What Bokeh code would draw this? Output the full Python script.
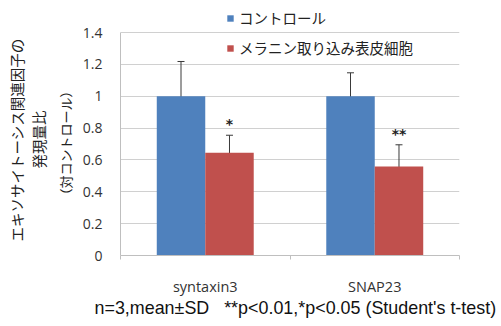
from bokeh.plotting import figure
from bokeh.models import (ColumnDataSource, Range1d, FixedTicker, Whisker, TeeHead,
                          Legend, LegendItem, Title)
from bokeh.core.properties import value
from bokeh.embed import file_html
from bokeh.resources import INLINE

# ---- data ----
categories = ["syntaxin3", "SNAP23"]
series_names = ["コントロール", "メラニン取り込み表皮細胞"]
control_mean = [1.0, 1.0]
control_sd = [0.218, 0.147]
melanin_mean = [0.645, 0.559]
melanin_sd = [0.11, 0.136]
significance = ["*", "**"]
y_ticks = [0, 0.2, 0.4, 0.6, 0.8, 1.0, 1.2, 1.4]
y_tick_labels = ["0", "0.2", "0.4", "0.6", "0.8", "1", "1.2", "1.4"]
y_title_lines = ["エキソサイトーシス関連因子の", "発現量比", "（対コントロール）"]
footnote = "n=3,mean±SD\u00a0\u00a0\u00a0**p<0.01,*p<0.05 (Student's t-test)"

BLUE = "#4f81bd"
RED = "#c0504d"
GRID = "#d0d0d0"
AXIS = "#bfbfbf"
JP = "Noto Sans CJK JP"

bar_w = 0.286
off = bar_w / 2
y_max = y_ticks[-1]
y_end = y_max * 250 / 223   # headroom above the top gridline for the legend

xc = [i + 0.5 for i in range(len(categories))]
ctrl = ColumnDataSource(dict(
    x=[c - off for c in xc], top=control_mean,
    upper=[m + s for m, s in zip(control_mean, control_sd)],
    lower=[m - s for m, s in zip(control_mean, control_sd)]))
mel = ColumnDataSource(dict(
    x=[c + off for c in xc], top=melanin_mean,
    upper=[m + s for m, s in zip(melanin_mean, melanin_sd)],
    lower=[m - s for m, s in zip(melanin_mean, melanin_sd)],
    sig=significance))

p = figure(width=501, height=326, output_backend="svg", toolbar_location=None,
           x_range=Range1d(0, len(categories)), y_range=Range1d(0, y_end),
           min_border_left=120, min_border_right=42, min_border_top=5,
           min_border_bottom=71)
p.outline_line_color = None
p.background_fill_color = "white"
p.xgrid.visible = False
p.ygrid.grid_line_color = GRID
p.ygrid.ticker = FixedTicker(ticks=y_ticks)

r1 = p.vbar(x="x", top="top", width=bar_w, source=ctrl, fill_color=BLUE, line_color=None)
r2 = p.vbar(x="x", top="top", width=bar_w, source=mel, fill_color=RED, line_color=None)

for src in (ctrl, mel):
    w = Whisker(base="x", upper="upper", lower="lower", source=src,
                line_color="#3a3a3a", line_width=1,
                upper_head=TeeHead(size=7, line_color="#3a3a3a", line_width=1),
                lower_head=TeeHead(size=7, line_color="#3a3a3a", line_width=1))
    p.add_layout(w)

p.text(x="x", y="upper", text="sig", source=mel, text_align="center",
       text_baseline="bottom", y_offset=-3, text_font=value("DejaVu Sans"),
       text_font_size="14px", text_font_style="bold", text_color="#222222")

# y axis
p.yaxis.ticker = FixedTicker(ticks=y_ticks)
p.yaxis.bounds = (0, y_max)
p.yaxis.major_label_overrides = {t: l for t, l in zip(y_ticks, y_tick_labels)}
p.yaxis.major_tick_out = 0
p.yaxis.major_tick_in = 0
p.yaxis.minor_tick_out = 0
p.yaxis.minor_tick_in = 0
p.yaxis.axis_line_color = AXIS
p.yaxis.major_label_standoff = 18
p.yaxis.major_label_text_font = "Open Sans"
p.yaxis.major_label_text_font_size = "14px"
p.yaxis.major_label_text_color = "#333333"

# x axis
p.xaxis.ticker = FixedTicker(ticks=xc, minor_ticks=list(range(len(categories) + 1)))
p.xaxis.major_label_overrides = {c: n for c, n in zip(xc, categories)}
p.xaxis.major_tick_out = 0
p.xaxis.major_tick_in = 0
p.xaxis.minor_tick_out = 4
p.xaxis.minor_tick_in = 0
p.xaxis.minor_tick_line_color = AXIS
p.xaxis.axis_line_color = AXIS
p.xaxis.major_label_standoff = 17
p.xaxis.major_label_text_font = "Open Sans"
p.xaxis.major_label_text_font_size = "14.5px"
p.xaxis.major_label_text_color = "#333333"

# y title: three left-side titles, innermost first (offset = distance from frame bottom)
title_styles = [(y_title_lines[2], "13px", 10, 54),
                (y_title_lines[1], "14.5px", 0, 87),
                (y_title_lines[0], "14.5px", -2, 14)]
for line, fs, so, offs in title_styles:
    p.add_layout(Title(text=line, align="left", standoff=so, offset=offs,
                       text_font=JP, text_font_size=fs, text_font_style="normal",
                       text_color="#222222"), "left")

# footnote below the x axis
p.add_layout(Title(text=footnote, align="left", offset=-26, standoff=-6,
                   text_font="Liberation Sans", text_font_size="17.9px",
                   text_font_style="normal", text_color="#111111"), "below")

legend = Legend(items=[LegendItem(label=series_names[0], renderers=[r1]),
                       LegendItem(label=series_names[1], renderers=[r2])],
                location=(106, 197), orientation="vertical",
                glyph_width=8, glyph_height=8, label_standoff=5,
                label_height=20, spacing=9, padding=0, margin=0,
                label_text_font=JP, label_text_font_size="14.5px",
                label_text_color="#222222",
                background_fill_alpha=0, border_line_color=None)
p.add_layout(legend)

open("out.html", "w").write(file_html(p, INLINE))
